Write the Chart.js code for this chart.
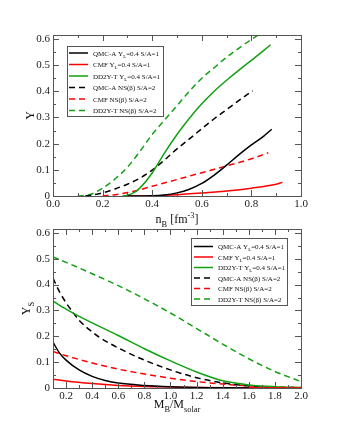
<!DOCTYPE html>
<html><head><meta charset="utf-8">
<script src="https://cdn.jsdelivr.net/npm/chart.js@4"></script>
<style>html,body{margin:0;padding:0;background:#fff;width:354px;height:425px;overflow:hidden}
canvas{position:absolute;left:0;top:0}</style></head>
<body>
<canvas id="top" width="354" height="425"></canvas>
<canvas id="bot" width="354" height="425"></canvas>
<script>
// ---------- legend / series names ----------
const seriesNames = [
  'QMC-A Y_{L}=0.4 S/A=1',
  'CMF Y_{L}=0.4 S/A=1',
  'DD2Y-T Y_{L}=0.4 S/A=1',
  'QMC-A NS(\u03B2) S/A=2',
  'CMF NS(\u03B2) S/A=2',
  'DD2Y-T NS(\u03B2) S/A=2'
];
const seriesColors = ['#000000', '#ff0000', '#11a011', '#000000', '#ff0000', '#11a011'];
const seriesDashed = [false, false, false, true, true, true];

// ---------- top panel: Y vs n_B ----------
const topXTicks = [0, 0.2, 0.4, 0.6, 0.8, 1.0];
const topXTickLabels = ['0.0', '0.2', '0.4', '0.6', '0.8', '1.0'];
const yTicks = [0, 0.1, 0.2, 0.3, 0.4, 0.5, 0.6];
const yTickLabels = ['0', '0.1', '0.2', '0.3', '0.4', '0.5', '0.6'];

const nbQmcYL = [0.3, 0.4, 0.45, 0.5, 0.55, 0.6, 0.65, 0.7, 0.75, 0.8, 0.85, 0.882];
const yQmcYL  = [0, 0.001, 0.004, 0.012, 0.026, 0.048, 0.08, 0.118, 0.158, 0.195, 0.229, 0.255];
const nbCmfYL = [0.3, 0.4, 0.5, 0.6, 0.7, 0.8, 0.9, 0.925];
const yCmfYL  = [0, 0.001, 0.005, 0.011, 0.019, 0.03, 0.045, 0.052];
const nbDd2YL = [0.28, 0.3, 0.33, 0.35, 0.4, 0.45, 0.5, 0.55, 0.6, 0.65, 0.7, 0.75, 0.8, 0.85, 0.877];
const yDd2YL  = [0, 0.003, 0.015, 0.03, 0.088, 0.165, 0.235, 0.297, 0.352, 0.4, 0.442, 0.481, 0.518, 0.556, 0.577];
const nbQmcNS = [0.13, 0.15, 0.2, 0.25, 0.3, 0.35, 0.4, 0.45, 0.5, 0.55, 0.6, 0.65, 0.7, 0.75, 0.805];
const yQmcNS  = [0, 0.002, 0.012, 0.027, 0.045, 0.068, 0.099, 0.138, 0.18, 0.218, 0.257, 0.295, 0.33, 0.365, 0.402];
const nbCmfNS = [0.2, 0.25, 0.3, 0.35, 0.4, 0.5, 0.6, 0.7, 0.8, 0.868];
const yCmfNS  = [0, 0.005, 0.013, 0.024, 0.037, 0.063, 0.089, 0.115, 0.142, 0.165];
const nbDd2NS = [0.1, 0.15, 0.2, 0.25, 0.3, 0.35, 0.4, 0.45, 0.5, 0.55, 0.6, 0.65, 0.7, 0.75, 0.8, 0.85];
const yDd2NS  = [0, 0.006, 0.03, 0.065, 0.11, 0.17, 0.235, 0.29, 0.345, 0.4, 0.45, 0.49, 0.53, 0.565, 0.598, 0.628];

// ---------- bottom panel: Y_S vs M_B/M_solar ----------
const botXTicks = [0.2, 0.4, 0.6, 0.8, 1.0, 1.2, 1.4, 1.6, 1.8, 2.0];
const botXTickLabels = ['0.2', '0.4', '0.6', '0.8', '1.0', '1.2', '1.4', '1.6', '1.8', '2.0'];

const mQmcYL = [0.1, 0.15, 0.2, 0.3, 0.4, 0.5, 0.6, 0.8, 1.0, 1.2, 1.4, 1.6];
const sQmcYL = [0.177, 0.135, 0.108, 0.07, 0.045, 0.029, 0.019, 0.01, 0.005, 0.002, 0.001, 0];
const mCmfYL = [0.1, 0.2, 0.4, 0.6, 0.8, 1.0, 1.2, 1.6, 2.0];
const sCmfYL = [0.034, 0.027, 0.017, 0.01, 0.006, 0.004, 0.002, 0.001, 0];
const mDd2YL = [0.1, 0.2, 0.264, 0.4, 0.6, 0.8, 1.0, 1.2, 1.4, 1.6, 1.8, 2.0];
const sDd2YL = [0.336, 0.305, 0.287, 0.252, 0.203, 0.152, 0.105, 0.062, 0.028, 0.012, 0.005, 0.002];
const mQmcNS = [0.1, 0.15, 0.2, 0.264, 0.3, 0.4, 0.456, 0.6, 0.8, 1.0, 1.2, 1.4, 1.6, 1.8, 2.0];
const sQmcNS = [0.425, 0.372, 0.33, 0.285, 0.262, 0.217, 0.196, 0.155, 0.108, 0.07, 0.04, 0.02, 0.008, 0.002, 0];
const mCmfNS = [0.1, 0.2, 0.4, 0.6, 0.8, 1.0, 1.2, 1.4, 1.6, 1.8, 2.0];
const sCmfNS = [0.141, 0.125, 0.097, 0.073, 0.054, 0.038, 0.025, 0.015, 0.008, 0.004, 0.002];
const mDd2NS = [0.1, 0.2, 0.4, 0.6, 0.8, 1.0, 1.2, 1.4, 1.6, 1.8, 2.0];
const sDd2NS = [0.507, 0.486, 0.442, 0.396, 0.345, 0.29, 0.23, 0.17, 0.113, 0.064, 0.025];

// ---------- helpers ----------
const FAM = '"Liberation Serif", "Times New Roman", serif';
function pts(xs, ys) { return xs.map((x, i) => ({x: x, y: ys[i]})); }
function parseRich(s) {
  const out = []; const re = /([_^])\{([^}]*)\}/g; let last = 0, m;
  while ((m = re.exec(s))) {
    if (m.index > last) out.push({t: s.slice(last, m.index), k: ''});
    out.push({t: m[2], k: m[1]}); last = re.lastIndex;
  }
  if (last < s.length) out.push({t: s.slice(last), k: ''});
  return out;
}
function drawRich(ctx, s, x, y, size, align) {
  const segs = parseRich(s); let w = 0;
  segs.forEach(g => { g.fs = g.k ? size * 0.7 : size; ctx.font = g.fs + 'px ' + FAM; g.w = ctx.measureText(g.t).width; w += g.w; });
  let cx = align === 'center' ? x - w / 2 : x;
  ctx.textAlign = 'left'; ctx.textBaseline = 'alphabetic';
  segs.forEach(g => {
    ctx.font = g.fs + 'px ' + FAM;
    const dy = g.k === '_' ? size * 0.3 : (g.k === '^' ? -size * 0.45 : 0);
    ctx.fillText(g.t, cx, y + dy); cx += g.w;
  });
}
function makeDatasets(list) {
  return list.map((d, i) => ({
    label: seriesNames[i].replace(/[_^]\{([^}]*)\}/g, '$1'),
    rich: seriesNames[i],
    data: d,
    borderColor: seriesColors[i],
    borderWidth: 1.5,
    borderDash: seriesDashed[i] ? [6, 4] : [],
    pointRadius: 0,
    fill: false,
    cubicInterpolationMode: 'monotone',
    tension: 0.4
  }));
}

const decorPlugin = {
  id: 'decor',
  afterDraw(chart, args, o) {
    const ctx = chart.ctx, a = chart.chartArea, xs = chart.scales.x, ys = chart.scales.y;
    ctx.save();
    ctx.strokeStyle = '#555'; ctx.lineWidth = 1;
    ctx.strokeRect(Math.round(a.left) + 0.5, Math.round(a.top) + 0.5, Math.round(a.right - a.left), Math.round(a.bottom - a.top));
    ctx.beginPath();
    const xMin = xs.min, xMax = xs.max;
    for (let k = Math.ceil(xMin / o.xMinor - 1e-6); k * o.xMinor <= xMax + 1e-9; k++) {
      const v = k * o.xMinor; const major = Math.abs(v / o.xMajor - Math.round(v / o.xMajor)) < 1e-6;
      const L = major ? 6 : 3; const px = Math.round(xs.getPixelForValue(v)) + 0.5;
      ctx.moveTo(px, a.bottom); ctx.lineTo(px, a.bottom - L);
      ctx.moveTo(px, a.top); ctx.lineTo(px, a.top + L);
    }
    for (let k = 0; k * o.yMinor <= ys.max + 1e-9; k++) {
      const v = k * o.yMinor; const major = Math.abs(v / o.yMajor - Math.round(v / o.yMajor)) < 1e-6;
      const L = major ? 6 : 3; const py = Math.round(ys.getPixelForValue(v)) + 0.5;
      ctx.moveTo(a.left, py); ctx.lineTo(a.left + L, py);
      ctx.moveTo(a.right, py); ctx.lineTo(a.right - L, py);
    }
    ctx.stroke();
    ctx.fillStyle = '#111';
    drawRich(ctx, o.xTitle, (a.left + a.right) / 2, a.bottom + o.xTitleGap, 12, 'center');
    ctx.save();
    ctx.translate(o.yTitleX, (a.top + a.bottom) / 2);
    ctx.rotate(-Math.PI / 2);
    drawRich(ctx, o.yTitle, 0, 0, 12, 'center');
    ctx.restore();
    const L = o.legend;
    ctx.fillStyle = '#fff';
    ctx.fillRect(L.x0, L.y0, L.x1 - L.x0, L.y1 - L.y0);
    ctx.strokeStyle = '#555'; ctx.lineWidth = 1;
    ctx.strokeRect(L.x0 + 0.5, L.y0 + 0.5, L.x1 - L.x0, L.y1 - L.y0);
    chart.data.datasets.forEach((ds, i) => {
      const y = L.rowY + i * L.rowStep;
      ctx.strokeStyle = ds.borderColor; ctx.lineWidth = 1.5;
      ctx.setLineDash(ds.borderDash || []);
      ctx.beginPath(); ctx.moveTo(L.s0, y); ctx.lineTo(L.s1, y); ctx.stroke();
      ctx.setLineDash([]);
      ctx.fillStyle = '#111';
      drawRich(ctx, ds.rich, L.tx, y + 2.5, 7, 'left');
    });
    ctx.restore();
  }
};

function makeChart(id, datasets, xr, xTicks, xLabels, pad, decor) {
  return new Chart(document.getElementById(id), {
    type: 'line',
    data: {datasets: datasets},
    plugins: [decorPlugin],
    options: {
      responsive: false, animation: false, devicePixelRatio: 1,
      layout: {padding: pad},
      plugins: {legend: {display: false}, tooltip: {enabled: false}, decor: decor},
      scales: {
        x: {
          type: 'linear', min: xr[0], max: xr[1],
          afterBuildTicks: s => { s.ticks = xTicks.map(v => ({value: v})); },
          afterFit: s => { s.height = 16; },
          grid: {display: false, drawTicks: false}, border: {display: false},
          ticks: {autoSkip: false, maxRotation: 0, padding: 2, color: '#222',
                  font: {family: FAM, size: 11}, callback: (v, i) => xLabels[i]}
        },
        y: {
          type: 'linear', min: 0, max: 0.615,
          afterBuildTicks: s => { s.ticks = yTicks.map(v => ({value: v})); },
          afterFit: s => { s.width = 53; },
          grid: {display: false, drawTicks: false}, border: {display: false},
          ticks: {autoSkip: false, padding: 3, color: '#222',
                  font: {family: FAM, size: 11}, callback: (v, i) => yTickLabels[i]}
        }
      }
    }
  });
}

makeChart('top',
  makeDatasets([pts(nbQmcYL, yQmcYL), pts(nbCmfYL, yCmfYL), pts(nbDd2YL, yDd2YL),
                pts(nbQmcNS, yQmcNS), pts(nbCmfNS, yCmfNS), pts(nbDd2NS, yDd2NS)]),
  [0, 1.0], topXTicks, topXTickLabels,
  {left: 0, right: 53, top: 35, bottom: 213},
  {xMinor: 0.1, xMajor: 0.2, yMinor: 0.05, yMajor: 0.1,
   xTitle: 'n_{B} [fm^{-3}]', xTitleGap: 27, yTitle: 'Y', yTitleX: 34,
   legend: {x0: 67, y0: 46, x1: 163, y1: 116, rowY: 53, rowStep: 11.5, s0: 69, s1: 88, tx: 93}});

makeChart('bot',
  makeDatasets([pts(mQmcYL, sQmcYL), pts(mCmfYL, sCmfYL), pts(mDd2YL, sDd2YL),
                pts(mQmcNS, sQmcNS), pts(mCmfNS, sCmfNS), pts(mDd2NS, sDd2NS)]),
  [0.1, 2.0], botXTicks, botXTickLabels,
  {left: 0, right: 53, top: 229, bottom: 21},
  {xMinor: 0.1, xMajor: 0.2, yMinor: 0.05, yMajor: 0.1,
   xTitle: 'M_{B}/M_{solar}', xTitleGap: 20, yTitle: 'Y_{S}', yTitleX: 30,
   legend: {x0: 191, y0: 238, x1: 287, y1: 305, rowY: 246.5, rowStep: 10.5, s0: 194, s1: 213, tx: 218}});
</script>
</body></html>
